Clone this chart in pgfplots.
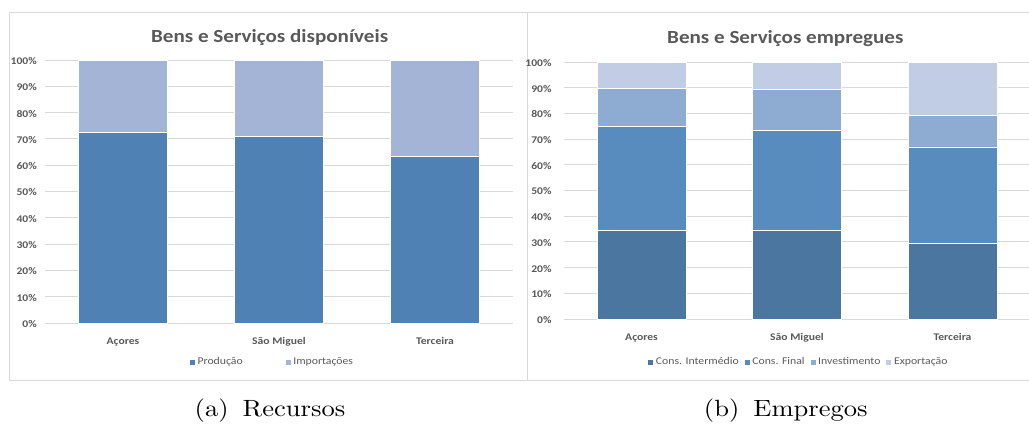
\documentclass[border=0pt]{standalone}
\usepackage{pgfplots}
\pgfplotsset{compat=1.18}
\usepackage{fontspec}
\setmainfont{Carlito}[FakeStretch=1.14]
\newfontfamily\capfont{lmroman10-regular.otf}[FakeStretch=1.13]

\definecolor{txt}{HTML}{595959}
\definecolor{grd}{HTML}{D9D9D9}
\definecolor{prod}{HTML}{4F81B4}
\definecolor{impo}{HTML}{A3B4D6}
\definecolor{cint}{HTML}{4A76A0}
\definecolor{cfin}{HTML}{588CBF}
\definecolor{inve}{HTML}{8EABD2}
\definecolor{expo}{HTML}{C0CDE4}

\pgfplotsset{
  excelbar/.style={
    ybar stacked, bar width=0.57, scale only axis,
    xmin=-0.5, xmax=2.5, ymin=0, ymax=100,
    xtick={0,1,2}, xticklabels={Açores,São Miguel,Terceira},
    ytick={0,10,...,100},
    yticklabels={0\%,10\%,20\%,30\%,40\%,50\%,60\%,70\%,80\%,90\%,100\%},
    axis line style={draw=none}, major tick length=0pt,
    ymajorgrids, major grid style={grd, line width=1pt},
    tick label style={font=\fontsize{10.2}{12}\selectfont\bfseries, text=txt},
    yticklabel style={inner sep=0pt, anchor=east, yshift=-1pt},
    xticklabel style={inner sep=0pt, anchor=base, yshift=-21.5pt},
    legend style={draw=none, fill=none, font=\fontsize{10.3}{12}\selectfont,
      text=txt, anchor=center, legend columns=-1,
      nodes={inner sep=2pt}},
    legend image code/.code={\fill[##1] (0pt,-3pt) rectangle (6pt,3pt);},
    title style={font=\fontsize{18.5}{22}\selectfont\bfseries, text=txt, anchor=base},
    every axis plot/.append style={draw=white, line width=0.6pt},
  }
}

\begin{document}
\begin{tikzpicture}
\useasboundingbox (0,0) rectangle (1029pt,-425pt);
\draw[grd, line width=1pt] (9pt,-13pt) rectangle (527pt,-380pt);
\draw[grd, line width=1pt] (527pt,-13pt) rectangle (1045pt,-380pt);

% (a) Recursos
\begin{axis}[excelbar,
  at={(45pt,-323pt)}, anchor=south west,
  width=468pt, height=263pt,
  title={Bens e Serviços disponíveis},
  title style={at={(0.48,1.042)}},
  yticklabel style={xshift=-8pt},
  legend style={at={(0.485,-0.148)},
    /tikz/every even column/.append style={column sep=40pt}},
]
\addplot[fill=prod] coordinates {(0,72.4) (1,71.1) (2,63.2)};
\addplot[fill=impo] coordinates {(0,27.6) (1,28.9) (2,36.8)};
\legend{Produção,Importações}
\end{axis}

% (b) Empregos
\begin{axis}[excelbar,
  at={(563.75pt,-319pt)}, anchor=south west,
  width=466.5pt, height=257pt,
  title={Bens e Serviços empregues},
  title style={at={(0.475,1.048)}},
  yticklabel style={xshift=-12pt},
  legend style={at={(0.503,-0.167)},
    /tikz/every even column/.append style={column sep=3pt}},
]
\addplot[fill=cint] coordinates {(0,34.4) (1,34.4) (2,29.3)};
\addplot[fill=cfin] coordinates {(0,40.4) (1,39.1) (2,37.7)};
\addplot[fill=inve] coordinates {(0,14.8) (1,15.9) (2,12.3)};
\addplot[fill=expo] coordinates {(0,10.4) (1,10.6) (2,20.7)};
\legend{Cons. Intermédio,Cons. Final,Investimento,Exportação}
\end{axis}

\node[anchor=base, font=\capfont\fontsize{23.5}{28}\selectfont] at (270pt,-416pt) {(a)\hspace{0.6em}Recursos};
\node[anchor=base, font=\capfont\fontsize{23.5}{28}\selectfont] at (785.8pt,-416pt) {(b)\hspace{0.6em}Empregos};
\end{tikzpicture}
\end{document}
